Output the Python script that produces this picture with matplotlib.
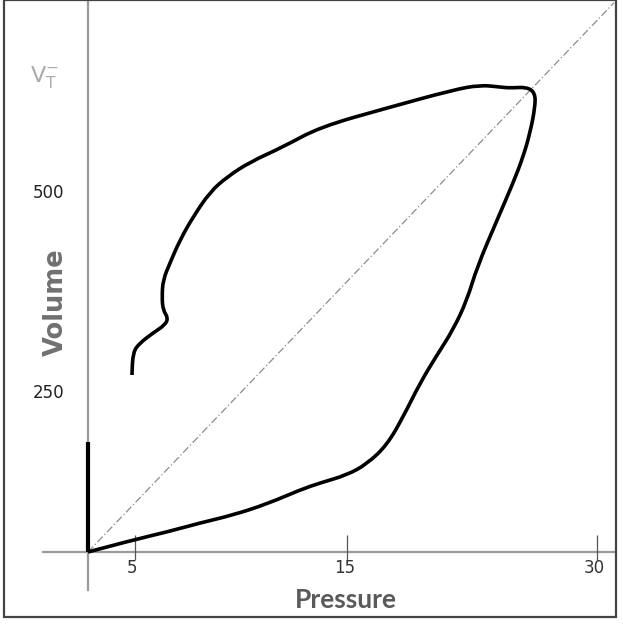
# Pressure-volume loop (schematic)

import matplotlib
matplotlib.use('Agg')
from matplotlib import pyplot as plt
from matplotlib.patches import Rectangle, PathPatch
from matplotlib.path import Path

# Loop (pressure, volume), starting at origin
pressure = [0, 2.65, 4.66, 6.60, 8.55, 10.55, 12.49, 13.67, 15.26, 16.44,
            17.62, 18.57, 19.57, 20.57, 21.51, 22.34, 22.93, 24.11, 25.05,
            25.64, 26.05, 26.35, 26.35, 25.87, 24.87, 24.28, 23.10, 21.51,
            17.62, 13.67, 11.49, 9.55, 8.19, 7.19, 6.19, 5.42, 4.83, 4.42,
            4.36, 4.42, 4.72, 4.54, 3.83, 3.06, 2.65, 2.59]
volume = [0, 16.7, 27.9, 40.4, 51.5, 66.9, 86.4, 96.1, 107.2, 122.6,
          149.0, 188.0, 235.4, 274.4, 309.2, 351.0, 396.9, 462.4, 513.9,
          550.1, 583.6, 619.8, 639.3, 647.6, 646.2, 647.6, 650.4, 643.5,
          618.4, 591.9, 564.1, 543.2, 522.3, 501.4, 466.6, 434.5, 402.5, 378.8,
          355.2, 337.0, 325.9, 316.2, 305.0, 291.1, 278.6, 246.5]

# Thick bar on the volume axis
bar_volume = [0, 153]

# Identity line end point
diag_p = [0, 31]
diag_v = [0, 765]

# Tick labels (positions as drawn in the picture)
xtick_pos = [2.77, 15.26, 30.0]
xtick_labels = ['5', '15', '30']
ytick_pos = [500, 221]
ytick_labels = ['500', '250']

fig = plt.figure(figsize=(6.23, 6.27), dpi=100)
ax = fig.add_axes([0, 0, 1, 1])
ax.set_xlim(-5.187, 31.53)
ax.set_ylim(-104.5, 768.8)
ax.axis('off')

# Axes lines
ax.axvline(0, ymin=0.059, ymax=1, color='#9a9a9a', lw=1.6, zorder=1)
ax.axhline(0, xmin=0.069, xmax=0.987, color='#9a9a9a', lw=1.6, zorder=1)

# Tick marks
ax.vlines(xtick_pos, -11, 24, color='#555555', lw=0.9, zorder=1)
for x, lab in zip(xtick_pos, xtick_labels):
    ax.text(x - 0.15, -22, lab, ha='center', va='center', fontsize=12,
            color='#333333', family=['Liberation Sans Narrow', 'DejaVu Sans'])
for y, lab in zip(ytick_pos, ytick_labels):
    ax.text(-2.35, y, lab, ha='center', va='center', fontsize=12,
            color='#222222', family=['Liberation Sans Narrow', 'DejaVu Sans'])

# Diagonal reference line
ax.plot(diag_p, diag_v, color='#8c8c8c', lw=0.9, linestyle=(0, (6, 2, 1, 2)),
        zorder=1)

# Loop drawn as a smooth path (traced points used as bezier controls)
pts = list(zip(pressure, volume))
verts = [pts[0]]
codes = [Path.MOVETO]
for i in range(1, len(pts) - 1):
    mid = ((pts[i][0] + pts[i + 1][0]) / 2, (pts[i][1] + pts[i + 1][1]) / 2)
    verts += [pts[i], mid]
    codes += [Path.CURVE3, Path.CURVE3]
verts.append(pts[-1])
codes.append(Path.LINETO)
ax.add_patch(PathPatch(Path(verts, codes), fill=False, edgecolor='black',
                       lw=2.6, joinstyle='round', capstyle='butt', zorder=3))

ax.plot([0, 0], bar_volume, color='black', lw=3, solid_capstyle='butt',
        zorder=3)

# Axis titles
ax.text(15.2, -67, 'Pressure', ha='center', va='center', fontsize=19,
        fontweight='bold', color='#5a5a5a', family='Lato')
ax.text(-1.9, 348, 'Volume', ha='center', va='center', fontsize=18.5,
        fontweight='bold', color='#707070', family='DejaVu Sans', rotation=90)
ax.text(-2.55, 662, r'$\mathregular{V_T^{-}}$', ha='center', va='center',
        fontsize=16, color='#aaaaaa')

# Frame around the picture
fig.patches.append(Rectangle((4 / 623, 10 / 627), 612 / 623, 617 / 627,
                             transform=fig.transFigure, fill=False,
                             edgecolor='#444444', lw=1.6))

plt.savefig('out.png', dpi=100)
